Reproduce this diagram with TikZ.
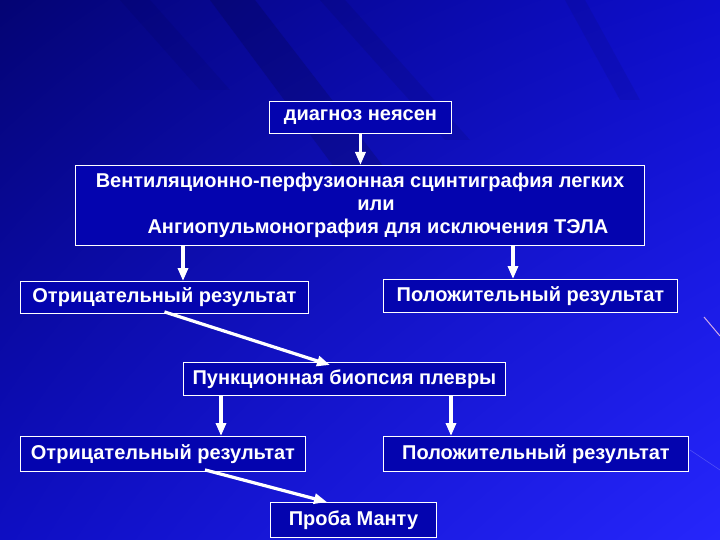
\documentclass[tikz,border=0pt]{standalone}
\usepackage{fontspec}
\setmainfont{Liberation Sans}
\usetikzlibrary{arrows.meta,shadings}
\definecolor{bgUL}{RGB}{4,4,115}
\definecolor{bgUR}{RGB}{14,14,205}
\definecolor{bgLL}{RGB}{14,14,195}
\definecolor{bgLR}{RGB}{38,38,252}
\definecolor{boxfill}{RGB}{4,4,175}
\tikzset{
  box/.style={draw=white, line width=0.9pt, fill=boxfill, text=white, anchor=north west,
    inner sep=0pt, font=\fontsize{20}{23}\selectfont\bfseries},
  arr/.style={draw=white, line width=3.2pt, -{Triangle[width=10pt,length=13pt]}},
}
\begin{document}
\begin{tikzpicture}[x=1pt,y=-1pt]
\useasboundingbox (0,0) rectangle (720,540);
% background
\shade[upper left=bgUL, upper right=bgUR, lower left=bgLL, lower right=bgLR] (0,0) rectangle (720,540);
% faint dark streaks
\fill[black, opacity=0.14] (210,0) -- (255,0) -- (390,175) -- (340,175) -- cycle;
\fill[black, opacity=0.08] (320,0) -- (345,0) -- (470,140) -- (445,140) -- cycle;
\fill[black, opacity=0.07] (565,0) -- (585,0) -- (640,100) -- (620,100) -- cycle;
\fill[black, opacity=0.06] (120,0) -- (150,0) -- (230,90) -- (200,90) -- cycle;
\draw[white!80!magenta, line width=1pt, opacity=0.8] (704,317) -- (720,336);
\draw[white, line width=0.6pt, opacity=0.2] (690,450) -- (720,470);

% nodes
\node[box, minimum width=182, minimum height=32] (b1) at (269,101) {диагноз неясен};
\node[box, minimum width=569, minimum height=80, align=center] (b2) at (75,165)
  {Вентиляционно-перфузионная сцинтиграфия легких\\
   \hspace*{32pt}или\\
   \hspace*{36pt}Ангиопульмонография для исключения ТЭЛА};
\node[box, minimum width=288, minimum height=32] (b3l) at (20,281) {Отрицательный результат};
\node[box, minimum width=294, minimum height=33] (b3r) at (383,279) {Положительный результат};
\node[box, minimum width=322, minimum height=33] (b4) at (183,362) {Пункционная биопсия плевры};
\node[box, minimum width=285, minimum height=35] (b5l) at (20,436) {Отрицательный результат};
\node[box, minimum width=305, minimum height=35] (b5r) at (383,436) {Положительный результат};
\node[box, minimum width=166, minimum height=35] (b6) at (270,502) {Проба Манту};

% helper x positions
\coordinate (xa) at (183,0);
\coordinate (xb) at (513,0);
\coordinate (xc) at (330,0);
\coordinate (xd) at (221,0);
\coordinate (xe) at (451,0);
\coordinate (xf) at (205,0);
\coordinate (xg) at (327,0);

% connectors
\draw[arr] (b1.south) -- (b2.north -| b1.south);
\draw[arr] (b2.south -| xa) -- (b3l.north -| xa);
\draw[arr] (b2.south -| xb) -- (b3r.north -| xb);
\draw[arr] ([yshift=2pt]b3l.south) -- ([yshift=-3pt]b4.north -| xc);
\draw[arr] (b4.south -| xd) -- (b5l.north -| xd);
\draw[arr] (b4.south -| xe) -- (b5r.north -| xe);
\draw[arr] ([yshift=2pt]b5l.south -| xf) -- (b6.north -| xg);
\end{tikzpicture}
\end{document}
